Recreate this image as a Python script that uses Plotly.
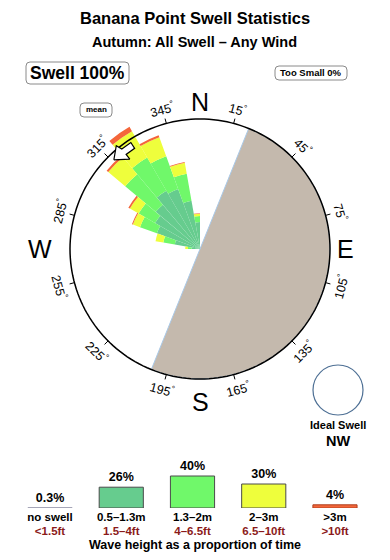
import math
import plotly.graph_objects as go

# ---------------- data ----------------
directions = [275, 285, 295, 305, 315, 325, 335, 345, 355]   # bin centres (deg)
pct_05_13 = [0.1, 0.9, 2.9, 3.7, 4.6, 6.2, 5.6, 3.3, 1.0]    # 0.5-1.3 m
pct_13_2 = [0.1, 1.0, 2.7, 3.2, 8.5, 9.1, 7.8, 4.7, 0.5]     # 1.3-2 m
pct_2_3 = [0.1, 0.9, 1.4, 2.1, 6.6, 10.1, 6.0, 2.5, 0.2]     # 2-3 m
pct_gt3 = [0.0, 0.0, 0.2, 0.4, 0.7, 1.9, 0.7, 0.2, 0.05]     # >3 m

legend_labels = ["no swell", "0.5\u20131.3m", "1.3\u20132m", "2\u20133m", ">3m"]
legend_feet = ["<1.5ft", "1.5\u20134ft", "4\u20136.5ft", "6.5\u201310ft", ">10ft"]
legend_pct = [0.3, 26, 40, 30, 4]

tick_degrees = [15, 45, 75, 105, 135, 165, 195, 225, 255, 285, 315, 345]
land_from, land_to = 22, 202
mean_dir = 320
ring_pct = 23.2
ideal_swell = "NW"

# ---------------- style ----------------
W, H = 390, 560
CX, CY = 200, 249          # rose centre in px
R_RING = 130               # px radius of ring
R_DOM = 143                # px radius of polar domain
FONT = "Liberation Sans"
C_DARK = "#66CC8E"
C_GREEN = "#70F86A"
C_YEL = "#EEFE3C"
C_ORA = "#F4663A"
C_LAND = "#C4B9AD"
C_NOSW = "#9d9db0"

ring_r = math.sqrt(ring_pct)
r_max = ring_r * R_DOM / R_RING
px_unit = R_RING / ring_r   # px per radial unit

fig = go.Figure()

# land sector
fig.add_trace(go.Barpolar(
    theta=[(land_from + land_to) / 2], r=[ring_r], width=[land_to - land_from],
    marker=dict(color=C_LAND, line=dict(color="#a9c9e8", width=1)),
    hoverinfo="skip", showlegend=False))

# stacked swell bands, area-proportional
bands = [pct_05_13, pct_13_2, pct_2_3, pct_gt3]
colors = [C_DARK, C_GREEN, C_YEL, C_ORA]
cum = [0.0] * len(directions)
for vals, col in zip(bands, colors):
    lo = [math.sqrt(c) for c in cum]
    cum = [c + v for c, v in zip(cum, vals)]
    hi = [math.sqrt(c) for c in cum]
    fig.add_trace(go.Barpolar(
        theta=directions, r=[h - l for h, l in zip(hi, lo)], base=lo,
        width=[10] * len(directions),
        marker=dict(color=col, line=dict(width=0)),
        hoverinfo="skip", showlegend=False))

# ring circle
circ_t = list(range(0, 361, 2))
fig.add_trace(go.Scatterpolar(
    theta=circ_t, r=[ring_r] * len(circ_t), mode="lines",
    line=dict(color="black", width=1.5), hoverinfo="skip", showlegend=False))

# tick marks
for d in tick_degrees:
    fig.add_trace(go.Scatterpolar(
        theta=[d, d], r=[ring_r, ring_r + 5 / px_unit], mode="lines",
        line=dict(color="black", width=1), hoverinfo="skip", showlegend=False))

# mean direction arrow (block arrow), defined in px radius / bearing offset
arrow_pts = [(124, -4), (133, 1), (127, 2), (127, 7), (120, 7), (120, 2), (114, 2), (124, -4)]
fig.add_trace(go.Scatterpolar(
    theta=[mean_dir + a for _, a in arrow_pts],
    r=[p / px_unit for p, _ in arrow_pts],
    mode="lines", fill="toself", fillcolor="white",
    line=dict(color="black", width=1.2), hoverinfo="skip", showlegend=False))

# legend bars
fig.add_trace(go.Bar(
    x=list(range(len(legend_pct))), y=legend_pct, width=0.62,
    marker=dict(color=[C_NOSW, C_DARK, C_GREEN, C_YEL, C_ORA],
                line=dict(color=[C_NOSW, "#4a4a4a", "#4a4a4a", "#4a4a4a", "#b04020"], width=1)),
    text=[f"{v:g}%" for v in legend_pct], textposition="outside", cliponaxis=False,
    textfont=dict(family=FONT, size=12.5, color="black", weight="bold"),
    hoverinfo="skip", showlegend=False))

fig.update_layout(
    width=W, height=H, margin=dict(l=0, r=0, t=0, b=0),
    paper_bgcolor="white", plot_bgcolor="white",
    font=dict(family=FONT, color="black"),
    polar=dict(
        domain=dict(x=[(CX - R_DOM) / W, (CX + R_DOM) / W],
                    y=[1 - (CY + R_DOM) / H, 1 - (CY - R_DOM) / H]),
        bgcolor="rgba(0,0,0,0)",
        barmode="overlay",
        radialaxis=dict(range=[0, r_max], visible=False),
        angularaxis=dict(rotation=90, direction="clockwise", showline=False,
                         showgrid=False, showticklabels=False, ticks=""),
    ),
    xaxis=dict(domain=[14.4 / W, 370.6 / W], range=[-0.5, 4.5],
               tickvals=list(range(len(legend_labels))),
               ticktext=[f"{a}<br><span style='color:#8b1a1a'>{b.replace('<', '&lt;')}</span>"
                         for a, b in zip(legend_labels, legend_feet)],
               tickfont=dict(family=FONT, size=11.5, color="black", weight="bold"),
               showgrid=False, zeroline=False, showline=False, ticks="", fixedrange=True),
    yaxis=dict(domain=[1 - 508 / H, 1 - 468 / H], range=[0, 50], visible=False),
)

def px(x, y):
    return x / W, 1 - y / H

ann = []
def text(x, y, s, size, bold=True, **kw):
    xp, yp = px(x, y)
    d = dict(x=xp, y=yp, xref="paper", yref="paper", text=s, showarrow=False,
             xanchor="center", yanchor="middle",
             font=dict(family=FONT, size=size, color="black", weight="bold" if bold else "normal"))
    d.update(kw)
    ann.append(d)

def rounded_box(x0, y0, x1, y1, rad):
    rx, ry = rad / W, rad / H
    a0, b1 = px(x0, y0)
    a1, b0 = px(x1, y1)
    path = (f"M {a0+rx},{b1} L {a1-rx},{b1} Q {a1},{b1} {a1},{b1-ry} "
            f"L {a1},{b0+ry} Q {a1},{b0} {a1-rx},{b0} L {a0+rx},{b0} "
            f"Q {a0},{b0} {a0},{b0+ry} L {a0},{b1-ry} Q {a0},{b1} {a0+rx},{b1} Z")
    fig.add_shape(type="path", xref="paper", yref="paper", path=path,
                  line=dict(color="#8a8a8a", width=1))

text(195, 18, "Banana Point Swell Statistics", 16.5)
text(194, 42, "Autumn: All Swell \u2013 Any Wind", 14.5)
text(77, 73, "Swell 100%", 17.5)
rounded_box(26, 62, 129, 84, 4)
text(311, 73, "Too Small 0%", 9.5)
rounded_box(275, 66, 347, 80, 4)
text(96, 110, "mean", 8)
rounded_box(80, 103, 112, 117, 4)

# compass letters
for lab, b, rr in [("N", 0, 147), ("E", 90, 145), ("S", 180, 153), ("W", 270, 160)]:
    text(CX + rr * math.sin(math.radians(b)), CY - rr * math.cos(math.radians(b)), lab, 25, bold=False)

# tangential degree labels
for d in tick_degrees:
    ang = d if (d <= 90 or d >= 270) else d - 180
    if ang >= 270:
        ang -= 360
    rr = 145
    text(CX + rr * math.sin(math.radians(d)), CY - rr * math.cos(math.radians(d)),
         f"{d}<sup>\u00b0</sup>", 12.5, bold=False, textangle=ang)

text(338, 425, "Ideal Swell", 11)
text(338, 441, ideal_swell, 14.5)
text(195, 545, "Wave height as a proportion of time", 12.5)

fig.update_layout(annotations=ann)

fig.add_shape(type="circle", xref="paper", yref="paper",
              x0=(338 - 25) / W, x1=(338 + 25) / W,
              y0=1 - (390 + 25) / H, y1=1 - (390 - 25) / H,
              line=dict(color="#4d6f94", width=1.2))

fig.write_html("out.html")
